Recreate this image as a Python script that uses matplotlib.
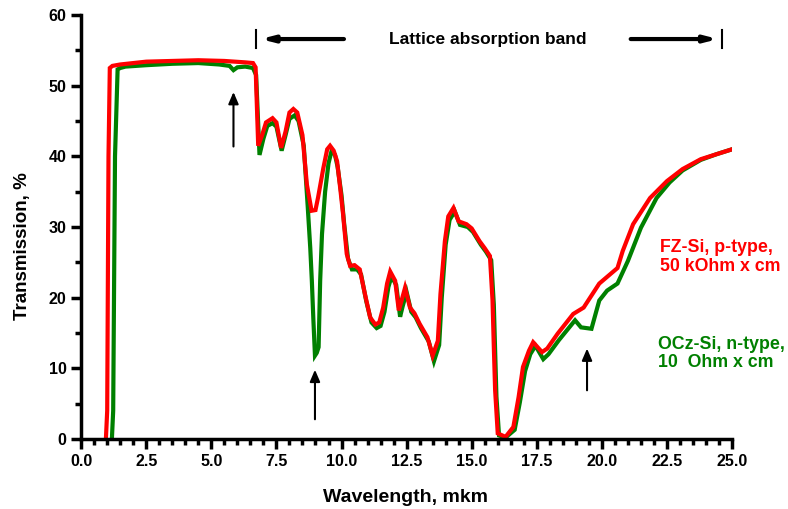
import matplotlib
matplotlib.use("Agg")
import matplotlib.pyplot as plt
from matplotlib.ticker import MultipleLocator

plt.rcParams['font.family'] = ['Liberation Sans', 'DejaVu Sans']
plt.rcParams['font.weight'] = 'bold'

# FZ-Si, p-type, 50 kOhm x cm (red)
fz_x = [0.95, 1.0, 1.05, 1.1, 1.2, 1.5, 2.0, 2.5, 3.5, 4.5,
        5.5, 6.3, 6.6, 6.7, 6.8, 6.95, 7.1, 7.35, 7.5, 7.68,
        7.85, 8.0, 8.15, 8.3, 8.5, 8.67, 8.85, 9.0, 9.1, 9.3,
        9.45, 9.56, 9.7, 9.83, 9.95, 10.06, 10.2, 10.33, 10.5, 10.7,
        10.9, 11.1, 11.3, 11.45, 11.6, 11.75, 11.87, 12.06, 12.2, 12.3,
        12.44, 12.63, 12.8, 13.0, 13.3, 13.5, 13.7, 13.8, 13.97, 14.1,
        14.3, 14.5, 14.8, 15.0, 15.3, 15.5, 15.7, 15.8, 15.85, 15.9,
        16.0, 16.3, 16.6, 16.8, 16.97, 17.2, 17.36, 17.7, 17.9, 18.3,
        18.9, 19.3, 19.9, 20.6, 20.8, 21.2, 21.85, 22.5, 23.1, 23.8,
        24.4, 25.0]
fz_y = [0, 4, 40, 52.5, 52.8, 53.0, 53.2, 53.4, 53.5, 53.6,
        53.5, 53.3, 53.2, 52.6, 41.5, 43, 44.8, 45.4, 44.8, 41.2,
        43.5, 46.2, 46.7, 46.2, 43, 36, 32.3, 32.4, 34.2, 38.3,
        41, 41.5, 40.8, 39.3, 35.5, 31.8, 26.2, 24.5, 24.6, 24.0,
        20.5, 17.2, 16.2, 16.5, 18.6, 22, 23.7, 22.4, 18.2, 19.5,
        21.4, 18.6, 17.8, 16.3, 14.4, 11.8, 13.9, 20.5, 28, 31.5,
        32.7, 30.8, 30.4, 29.8, 28, 27, 25.9, 19.6, 13, 6.9,
        0.8, 0.3, 1.7, 5.9, 10.2, 12.5, 13.7, 12.3, 12.8, 14.9,
        17.7, 18.6, 22, 24.2, 26.6, 30.4, 34.1, 36.5, 38.2, 39.6,
        40.3, 41.0]

# OCz-Si, n-type, 10 Ohm x cm (green)
ocz_x = [1.18, 1.23, 1.3, 1.4, 1.5, 1.7, 2.5, 3.5, 4.5, 5.3,
         5.7, 5.85, 6.0, 6.3, 6.6, 6.72, 6.85, 7.0, 7.15, 7.35,
         7.5, 7.7, 7.85, 8.0, 8.2, 8.35, 8.55, 8.7, 8.8, 8.86,
         8.92, 8.98, 9.05, 9.12, 9.18, 9.25, 9.37, 9.5, 9.62, 9.75,
         9.85, 10.0, 10.1, 10.25, 10.4, 10.6, 10.75, 10.95, 11.15, 11.35,
         11.5, 11.65, 11.8, 11.92, 12.1, 12.25, 12.35, 12.5, 12.68, 12.85,
         13.05, 13.35, 13.55, 13.75, 13.85, 14.0, 14.15, 14.35, 14.55, 14.85,
         15.05, 15.35, 15.55, 15.75, 15.85, 15.9, 15.95, 16.05, 16.3, 16.65,
         16.85, 17.05, 17.25, 17.45, 17.75, 17.95, 18.35, 18.97, 19.2, 19.6,
         19.9, 20.2, 20.6, 21.0, 21.5, 22.1, 22.6, 23.1, 23.8, 24.4,
         25.0]
ocz_y = [0, 4, 40, 52.3, 52.5, 52.7, 52.9, 53.1, 53.2, 53.0,
         52.8, 52.2, 52.6, 52.7, 52.5, 51.5, 40.2, 42.5, 44.3, 44.7,
         44.2, 40.8, 43.0, 45.3, 45.8, 45.0, 41.5, 33, 27, 22.4,
         16.8, 11.8, 12.2, 13, 22.4, 29, 35, 39, 40.8, 40.2,
         38.5, 34.5, 30.5, 25.5, 24.0, 24.0, 23.3, 19.5, 16.5, 15.7,
         16.0, 18.0, 21.5, 23.0, 21.8, 17.3, 18.8, 20.8, 18.0, 17.2,
         15.7, 13.8, 11.0, 13.3, 20.0, 27.5, 31.0, 32.2, 30.3, 30.0,
         29.3, 27.5, 26.5, 25.3, 19.0, 12.5, 6.0, 0.5, 0.2, 1.3,
         5.2, 9.6, 12.0, 13.2, 11.3, 12.0, 14.0, 16.8, 15.8, 15.6,
         19.6, 21.0, 22.0, 25.2, 29.9, 34.1, 36.3, 38.0, 39.5, 40.3,
         41.0]

# vertical arrows marking oxygen-related features: (x, y_tail, y_tip)
arrows = [(5.85, 41, 49.5), (8.98, 2.4, 10.2), (19.43, 6.5, 13.2)]

fig = plt.figure(figsize=(7.88, 5.09), dpi=100)
ax = fig.add_axes([0.103, 0.1375, 0.826, 0.833])

ax.plot(ocz_x, ocz_y, color='#008000', lw=3, solid_joinstyle='miter')
ax.plot(fz_x, fz_y, color='#ff0000', lw=3, solid_joinstyle='miter')

for xa, y0, y1 in arrows:
    ax.annotate('', xy=(xa, y1), xytext=(xa, y0),
                arrowprops=dict(arrowstyle='-|>,head_width=0.3,head_length=0.7',
                                color='black', lw=1.5))

# lattice absorption band marker
band_y = 56.6
ax.annotate('', xy=(6.78, band_y), xytext=(10.2, band_y),
            arrowprops=dict(arrowstyle='-|>,head_width=0.18,head_length=0.7',
                            color='black', lw=3))
ax.annotate('', xy=(24.57, band_y), xytext=(21.0, band_y),
            arrowprops=dict(arrowstyle='-|>,head_width=0.18,head_length=0.7',
                            color='black', lw=3))
ax.plot([6.72, 6.72], [55.3, 57.9], color='black', lw=1.5)
ax.plot([24.63, 24.63], [55.3, 57.9], color='black', lw=1.5)
ax.text(15.6, band_y, 'Lattice absorption band', ha='center', va='center',
        fontsize=12.5, fontweight='bold')

# curve labels, left aligned at the right margin
ax.text(0.838, 0.495, 'FZ-Si, p-type,\n50 kOhm x cm', transform=fig.transFigure,
        ha='left', va='center', color='#ff0000', fontsize=12.8,
        fontweight='bold', linespacing=1.1)
ax.text(0.835, 0.305, 'OCz-Si, n-type,\n10  Ohm x cm', transform=fig.transFigure,
        ha='left', va='center', color='#008000', fontsize=12.8,
        fontweight='bold', linespacing=1.1)

ax.set_xlim(0, 25)
ax.set_ylim(0, 60)
ax.xaxis.set_major_locator(MultipleLocator(2.5))
ax.xaxis.set_minor_locator(MultipleLocator(0.5))
ax.yaxis.set_major_locator(MultipleLocator(10))
ax.yaxis.set_minor_locator(MultipleLocator(5))
ax.xaxis.set_major_formatter(plt.FuncFormatter(lambda v, p: f'{v:.1f}'))
ax.yaxis.set_major_formatter(plt.FuncFormatter(lambda v, p: f'{v:.0f}'))

for s in ['top', 'right']:
    ax.spines[s].set_visible(False)
for s in ['left', 'bottom']:
    ax.spines[s].set_linewidth(2.5)
ax.tick_params(which='major', length=7, width=2.5, labelsize=11.5)
ax.tick_params(which='minor', length=4, width=2.5)
for lab in ax.get_xticklabels() + ax.get_yticklabels():
    lab.set_fontweight('bold')

ax.set_xlabel('Wavelength, mkm', fontsize=14, fontweight='bold')
ax.set_ylabel('Transmission, %', fontsize=13.5, fontweight='bold')
ax.xaxis.set_label_coords(0.499, -0.118)
ax.yaxis.set_label_coords(-0.077, 0.455)

fig.savefig('out.png', dpi=100)
